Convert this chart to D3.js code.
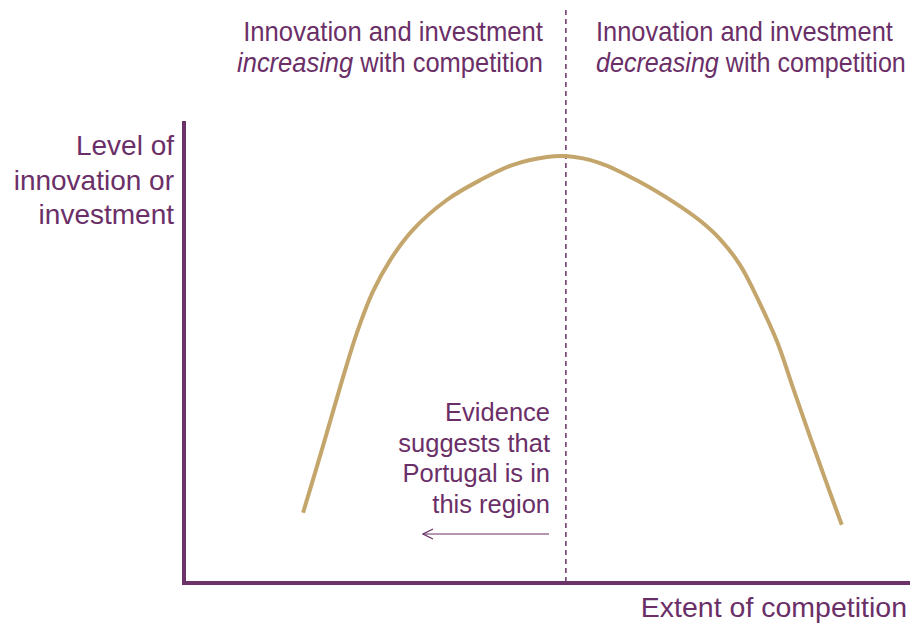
<!DOCTYPE html>
<html>
<head>
<meta charset="utf-8">
<script src="https://cdn.jsdelivr.net/npm/d3@7"></script>
<style>
	body { margin: 0; background: #fff; }
	text { font-family: "Liberation Sans", Arial, sans-serif; fill: #6b2f68; }
</style>
</head>
<body>
<script>
// curve, in axis units (0-100 both ways)
let competition = [16.4, 19.1, 21.5, 23.8, 26.0, 28.4, 31.5, 36.2, 40.8, 45.3, 50.0, 52.6, 57.3, 62.8, 67.4, 71.1, 73.8, 76.6, 79.3, 81.7, 83.9, 86.2, 88.4, 90.6]
let innovation  = [15.2, 29.4, 42.4, 54.1, 63.0, 69.9, 76.4, 82.9, 87.2, 90.5, 92.2, 92.4, 90.9, 86.8, 82.5, 78.4, 74.5, 68.8, 60.6, 52.2, 42.2, 31.8, 22.1, 12.6]
let peakX = 52.6
let regionTitles = [
	['Innovation and investment', ['increasing', ' with competition']],
	['Innovation and investment', ['decreasing', ' with competition']]
]
let yTitle = ['Level of', 'innovation or', 'investment']
let xTitle = 'Extent of competition'
let note = ['Evidence', 'suggests that', 'Portugal is in', 'this region']

let W = 912, H = 623
let purple = '#6b2f68', gold = '#c4a66c'

let x = d3.scaleLinear().domain([0, 100]).range([184, 910])
let y = d3.scaleLinear().domain([0, 100]).range([583, 121])

let svg = d3.select('body').append('svg').attr('width', W).attr('height', H)

svg.append('defs').append('marker')
	.attr('id', 'arr').attr('viewBox', '0 0 12 12')
	.attr('refX', 11).attr('refY', 6)
	.attr('markerWidth', 12).attr('markerHeight', 12)
	.attr('markerUnits', 'userSpaceOnUse').attr('orient', 'auto')
	.append('path').attr('d', 'M1,1 L11,6 L1,11')
	.attr('fill', 'none').attr('stroke', purple).attr('stroke-width', 1.2)

// dashed divider at the peak
svg.append('line')
	.attr('x1', x(peakX)).attr('x2', x(peakX))
	.attr('y1', 10).attr('y2', y(0))
	.attr('stroke', purple).attr('stroke-width', 1.5)
	.attr('stroke-dasharray', '5,4')

// axes
svg.append('line')
	.attr('x1', x(0)).attr('x2', x(0)).attr('y1', y(100)).attr('y2', y(0) + 2)
	.attr('stroke', '#6b3368').attr('stroke-width', 4)
svg.append('line')
	.attr('x1', x(0) - 2).attr('x2', x(100)).attr('y1', y(0)).attr('y2', y(0))
	.attr('stroke', '#6b3368').attr('stroke-width', 4)

// the curve
let pts = competition.map((c, i) => [c, innovation[i]])
svg.append('path')
	.attr('d', d3.line().x(d => x(d[0])).y(d => y(d[1])).curve(d3.curveCatmullRom.alpha(0.5))(pts))
	.attr('fill', 'none').attr('stroke', gold).attr('stroke-width', 4)

// region titles, squeezed sideways to look condensed
let titleBox = [
	{ x: 543, w1: 300, w2: 306, anchor: 'end' },
	{ x: 596, w1: 297, w2: 310, anchor: 'start' }
]
let squeeze = function(txt, tx, ty, w) {
	let nat = txt.node().getComputedTextLength()
	txt.attr('transform', `translate(${tx},${ty}) scale(${w / nat},1)`)
}
regionTitles.forEach((t, i) => {
	let b = titleBox[i]
	let g = svg.append('g').style('font-size', '27px').attr('text-anchor', b.anchor)
	let l1 = g.append('text').text(t[0])
	squeeze(l1, b.x, 41, b.w1)
	let l2 = g.append('text')
	l2.append('tspan').style('font-style', 'italic').text(t[1][0])
	l2.append('tspan').text(t[1][1])
	squeeze(l2, b.x, 72, b.w2)
})

// y title
svg.append('g').attr('text-anchor', 'end').style('font-size', '28px')
	.selectAll('text').data(yTitle).join('text')
	.attr('x', 174).attr('y', (d, i) => 155 + i * 34.5)
	.text(d => d)

// x title
svg.append('text').attr('x', 907).attr('y', 617)
	.attr('text-anchor', 'end').style('font-size', '28.5px')
	.text(xTitle)

// note
svg.append('g').attr('text-anchor', 'end').style('font-size', '25.5px')
	.selectAll('text').data(note).join('text')
	.attr('x', 550).attr('y', (d, i) => 421 + i * 30.5)
	.text(d => d)

svg.append('line')
	.attr('x1', 549).attr('x2', 423).attr('y1', 534).attr('y2', 534)
	.attr('stroke', purple).attr('stroke-width', 1.2)
	.attr('marker-end', 'url(#arr)')
</script>
</body>
</html>
